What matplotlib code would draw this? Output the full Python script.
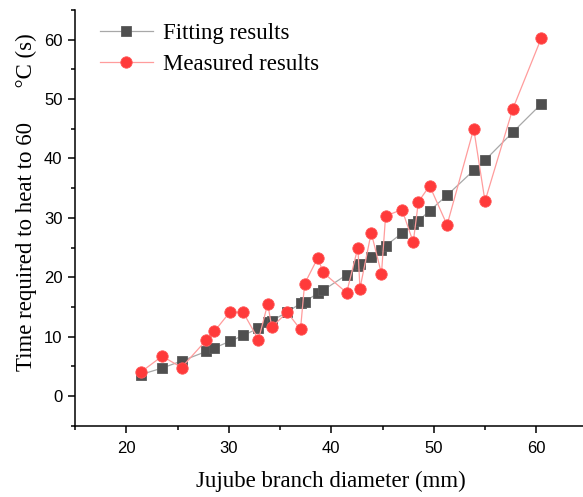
import numpy as np
import matplotlib
matplotlib.use("Agg")
import matplotlib.pyplot as plt
from matplotlib.ticker import MultipleLocator

# branch diameters (mm), shared by both series
diameter = [21.4, 23.5, 25.4, 27.8, 28.6, 30.1, 31.4, 32.9, 33.8, 34.2,
            35.7, 37.0, 37.4, 38.7, 39.2, 41.5, 42.6, 42.8, 43.9, 44.9,
            45.3, 46.9, 48.0, 48.5, 49.6, 51.3, 53.9, 55.0, 57.7, 60.5]

# heating time to 60 degC (s)
fitted = [3.6, 4.7, 5.9, 7.5, 8.1, 9.2, 10.2, 11.4, 12.4, 12.7,
          14.1, 15.6, 15.9, 17.3, 17.8, 20.4, 21.9, 22.3, 23.4, 24.6,
          25.3, 27.4, 28.9, 29.5, 31.2, 33.8, 38.0, 39.7, 44.4, 49.2]
measured = [4.0, 6.7, 4.8, 9.4, 10.9, 14.1, 14.1, 9.5, 15.5, 11.6,
            14.1, 11.2, 18.9, 23.3, 20.8, 17.4, 25.0, 18.1, 27.5, 20.6,
            30.3, 31.4, 25.9, 32.7, 35.4, 28.8, 45.0, 32.8, 48.3, 60.3]

serif = "Liberation Serif"
sans = "Liberation Sans"

fig = plt.figure(figsize=(5.83, 4.97), dpi=100)
ax = fig.add_axes([75 / 583, 1 - 425.7 / 497, 512.5 / 583, 415.7 / 497])

ax.plot(diameter, fitted, color="#a8a8a8", lw=0.9, marker="s", ms=7,
        mfc="#4f4f4f", mec="#5a5a5a", mew=0.6, label="Fitting results", zorder=3)
ax.plot(diameter, measured, color="#ff9c9c", lw=0.9, marker="o", ms=8.2,
        mfc="#ff3a3a", mec="#ff5555", mew=0.6, label="Measured results", zorder=4)

ax.set_xlim(15, 65)
ax.set_ylim(-5, 65)
ax.xaxis.set_major_locator(MultipleLocator(10))
ax.xaxis.set_minor_locator(MultipleLocator(5))
ax.yaxis.set_major_locator(MultipleLocator(10))
ax.yaxis.set_minor_locator(MultipleLocator(5))

for side in ("top", "right"):
    ax.spines[side].set_visible(False)
for side in ("left", "bottom"):
    ax.spines[side].set_linewidth(1.1)

ax.tick_params(which="major", length=5, width=1.1, labelsize=12)
ax.tick_params(which="minor", length=3, width=1.1)
ax.tick_params(axis="x", which="major", pad=6)
ax.tick_params(axis="y", which="major", pad=4)
for lab in ax.get_xticklabels() + ax.get_yticklabels():
    lab.set_fontfamily(sans)

ax.set_xlabel("Jujube branch diameter (mm)", fontfamily=serif, fontsize=16.5)
ax.set_ylabel("Time required to heat to 60      \u00b0C (s)", fontfamily=serif, fontsize=16.5)
ax.xaxis.set_label_coords(0.5, -0.108)
ax.yaxis.set_label_coords(-0.074, 0.538)

ax.legend(loc="upper left", bbox_to_anchor=(100 / 583, 1 - 23 / 497),
          bbox_transform=fig.transFigure, frameon=False, borderpad=0,
          borderaxespad=0, handlelength=2.3, handletextpad=0.45,
          labelspacing=0.45, prop={"family": serif, "size": 16.5})

fig.savefig("out.png", dpi=100)
